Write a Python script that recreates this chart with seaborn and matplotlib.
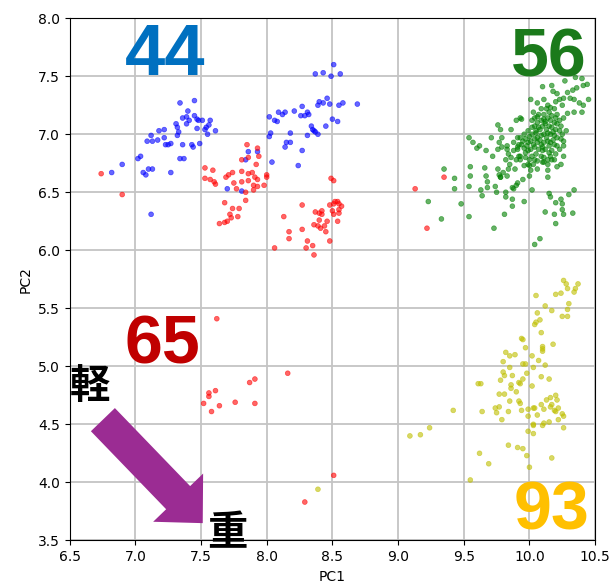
import matplotlib
matplotlib.use("Agg")
import matplotlib.pyplot as plt
import seaborn as sns
import pandas as pd
from matplotlib import font_manager

# ---------------- data ----------------
blue_pts = [
    (7.34, 7.27), (7.45, 7.29), (7.40, 7.20), (7.36, 7.14), (7.39, 7.15), (7.41, 7.12), (7.45, 7.16),
    (7.47, 7.13), (7.48, 7.12), (7.51, 7.12), (7.31, 7.09), (7.32, 7.06), (7.39, 7.09), (7.47, 7.05),
    (7.53, 7.04), (7.18, 7.03), (7.22, 7.04), (7.33, 7.02), (7.32, 6.99), (7.12, 6.99), (7.09, 6.94),
    (7.13, 6.94), (7.17, 6.95), (7.22, 6.97), (7.23, 6.91), (7.25, 6.91), (7.27, 6.92), (7.36, 6.91),
    (7.43, 6.91), (7.44, 6.89), (7.49, 6.92), (6.90, 6.74), (7.02, 6.79), (7.04, 6.81), (7.34, 6.79),
    (7.37, 6.79), (6.82, 6.67), (7.06, 6.67), (7.08, 6.65), (7.10, 6.70), (7.13, 6.70), (7.27, 6.67),
    (7.12, 6.31),
    (8.51, 7.60), (8.37, 7.52), (8.43, 7.53), (8.49, 7.50), (8.56, 7.52), (8.46, 7.31), (8.40, 7.28),
    (8.43, 7.27), (8.48, 7.26), (8.55, 7.25), (8.58, 7.27), (8.39, 7.25), (8.69, 7.26), (8.27, 7.24),
    (8.21, 7.20), (8.09, 7.19), (8.14, 7.19), (8.12, 7.17), (8.31, 7.19), (8.32, 7.17), (8.26, 7.16),
    (8.29, 7.16), (8.02, 7.15), (8.06, 7.12), (8.08, 7.11), (8.50, 7.13), (8.54, 7.11), (8.34, 7.07),
    (8.35, 7.04), (8.36, 7.03), (8.37, 7.02), (8.45, 7.07), (8.39, 7.00), (8.31, 6.99), (8.18, 7.01),
    (8.03, 7.01), (8.02, 6.98), (8.15, 6.93), (8.18, 6.93), (8.14, 6.89), (8.27, 6.86), (8.04, 6.76),
    (8.24, 6.73), (7.57, 7.12), (7.56, 7.08), (7.54, 7.06), (7.61, 7.03), (7.55, 7.00), (7.86, 6.85),
    (7.93, 6.85), (7.84, 6.78), (7.70, 6.53), (7.81, 6.51),
]

red_pts = [
    (6.74, 6.66), (6.90, 6.48),
    (7.85, 6.91), (7.93, 6.88), (7.94, 6.81), (7.86, 6.80), (7.81, 6.78), (7.92, 6.74), (7.53, 6.71),
    (7.59, 6.69), (7.53, 6.62), (7.57, 6.61), (7.60, 6.59), (7.61, 6.57), (7.69, 6.63), (7.71, 6.65),
    (7.74, 6.67), (7.81, 6.68), (7.86, 6.66), (7.89, 6.67), (7.91, 6.63), (7.93, 6.61), (8.00, 6.65),
    (8.00, 6.63), (7.75, 6.58), (7.81, 6.59), (7.86, 6.60), (7.90, 6.56), (7.93, 6.55), (7.98, 6.56),
    (7.77, 6.53), (7.90, 6.52), (7.84, 6.50), (7.68, 6.41), (7.74, 6.36), (7.79, 6.36), (7.72, 6.31),
    (7.73, 6.28), (7.78, 6.29), (7.64, 6.23), (7.68, 6.24), (7.70, 6.25), (7.84, 6.43),
    (8.06, 6.02), (8.13, 6.29), (8.17, 6.16), (8.17, 6.10), (8.27, 6.18), (8.27, 6.39), (8.31, 6.08),
    (8.30, 6.02), (8.35, 6.04), (8.36, 5.96), (8.37, 6.33), (8.40, 6.32), (8.42, 6.34), (8.42, 6.31),
    (8.40, 6.26), (8.36, 6.22), (8.39, 6.21), (8.41, 6.19), (8.44, 6.21), (8.45, 6.16), (8.46, 6.25),
    (8.48, 6.39), (8.48, 6.08), (8.49, 6.62), (8.51, 6.60), (8.51, 6.40), (8.52, 6.42), (8.54, 6.42),
    (8.55, 6.40), (8.57, 6.38), (8.55, 6.35), (8.50, 6.34), (8.51, 6.31), (8.55, 6.32), (8.54, 6.25),
    (9.35, 6.63), (9.13, 6.53), (9.22, 6.19),
    (7.62, 5.41), (8.16, 4.94), (7.87, 4.86), (7.91, 4.89), (7.56, 4.77), (7.61, 4.79), (7.56, 4.74),
    (7.52, 4.68), (7.58, 4.61), (7.64, 4.66), (7.76, 4.69), (7.91, 4.68), (8.51, 4.06), (8.29, 3.83),
]

green_pts = [
    (9.35, 6.70), (9.43, 6.62), (9.43, 6.53), (9.23, 6.42), (9.33, 6.27), (9.48, 6.40), (9.54, 6.97),
    (9.57, 6.93), (9.60, 6.88), (9.62, 6.90), (9.55, 6.72), (9.55, 6.64), (9.54, 6.55), (9.54, 6.29),
    (9.63, 6.52), (9.64, 6.47), (9.66, 6.71), (9.67, 6.64), (9.68, 6.59), (9.68, 6.54), (9.73, 6.19),
    (9.74, 6.55), (9.75, 6.50), (9.81, 6.31), (9.82, 6.46), (9.82, 6.50), (9.87, 6.44), (9.87, 6.38),
    (9.96, 6.42), (10.02, 6.52), (10.04, 6.05), (10.08, 6.10), (10.12, 6.33), (10.15, 6.49),
    (10.16, 6.46), (10.19, 6.31), (10.20, 6.41), (10.20, 6.23), (10.24, 6.44), (10.25, 6.40),
    (10.25, 6.35), (10.26, 6.31), (10.33, 6.32), (10.30, 6.48), (10.34, 6.52), (9.67, 6.86),
    (9.71, 6.97), (9.72, 6.81), (9.76, 6.70), (9.77, 6.65), (9.78, 6.63), (9.76, 7.08), (9.78, 7.04),
    (9.79, 6.97), (9.77, 6.93), (9.79, 6.89), (9.76, 6.87), (9.83, 6.87), (9.84, 6.83), (9.82, 6.78),
    (9.85, 6.74), (9.84, 6.70), (9.80, 6.67), (9.78, 6.63), (9.83, 6.64), (9.89, 6.70), (9.87, 6.54),
    (9.90, 6.56), (9.88, 6.53), (9.91, 6.58), (9.95, 6.61), (10.00, 6.64), (10.01, 6.69), (10.06, 6.70),
    (10.14, 6.69), (10.14, 6.63), (10.21, 6.72), (10.24, 6.74), (9.86, 7.04), (9.90, 7.12), (9.93, 7.14),
    (9.94, 7.13), (9.91, 6.97), (9.92, 6.91), (9.91, 6.87), (9.93, 6.81), (9.93, 6.78), (9.96, 6.73),
    (10.00, 6.73), (10.04, 6.78), (10.11, 6.76), (10.17, 6.78), (10.26, 6.90), (10.28, 7.03),
    (10.26, 6.81),
    (10.10, 7.41), (10.17, 7.42), (10.27, 7.46), (10.35, 7.49), (10.40, 7.48), (10.44, 7.43),
    (10.41, 7.42), (10.36, 7.40), (10.33, 7.38), (10.29, 7.36), (10.21, 7.35), (10.18, 7.37),
    (10.23, 7.30), (10.26, 7.31), (10.31, 7.31), (10.34, 7.30), (10.38, 7.27), (10.41, 7.25),
    (10.45, 7.30), (10.40, 7.19), (10.34, 7.19), (10.29, 7.18), (10.25, 7.25), (10.20, 7.28),
    (10.14, 7.25), (10.11, 7.30), (10.06, 7.27), (10.01, 7.30), (10.03, 7.19), (10.06, 7.15),
    (10.09, 7.22), (10.15, 7.19), (10.19, 7.22), (10.21, 7.17), (10.26, 7.14), (10.24, 7.07),
    (10.02, 7.12),
    (10.04, 7.07), (10.06, 7.10), (10.09, 7.12), (10.11, 7.13), (10.14, 7.14), (10.16, 7.12),
    (10.19, 7.10), (10.21, 7.09), (10.07, 7.06), (10.10, 7.07), (10.12, 7.09), (10.15, 7.07),
    (10.17, 7.06), (10.20, 7.04), (10.23, 7.03), (10.05, 7.03), (10.02, 7.00), (10.00, 6.98),
    (9.97, 6.96), (9.95, 6.94), (9.99, 6.93), (10.01, 6.94), (10.04, 6.96), (10.06, 6.97),
    (10.09, 6.99), (10.11, 7.00), (10.14, 7.01), (10.16, 7.00), (10.19, 6.99), (10.21, 6.97),
    (10.24, 6.96), (10.06, 6.93), (10.09, 6.91), (10.11, 6.93), (10.14, 6.94), (10.16, 6.93),
    (10.19, 6.91), (10.21, 6.90), (10.04, 6.89), (10.01, 6.87), (9.99, 6.86), (9.96, 6.88),
    (10.07, 6.87), (10.10, 6.86), (10.12, 6.87), (10.15, 6.84), (10.17, 6.86), (10.20, 6.83),
    (10.09, 6.81), (10.11, 6.80), (10.14, 6.78), (10.16, 6.81), (10.05, 6.83), (10.02, 6.81),
    (10.00, 6.78), (9.97, 6.80), (10.06, 6.77), (10.10, 6.76), (9.94, 6.91), (9.91, 6.89),
    (9.97, 6.84), (9.93, 6.97), (9.96, 7.00), (9.99, 7.03), (10.02, 7.06), (10.04, 7.14),
    (10.07, 7.17), (10.11, 7.17), (10.13, 7.22), (10.16, 7.23), (10.17, 7.16), (10.20, 7.14),
    (10.23, 7.12), (10.25, 7.00), (10.26, 6.94), (10.23, 6.87), (10.19, 6.78), (10.14, 6.74),
    (10.03, 6.74), (9.99, 6.74), (9.92, 6.81), (9.90, 6.78), (9.86, 6.80), (9.83, 6.90),
    (9.88, 6.93), (9.88, 6.86),
    (10.08, 7.04), (10.13, 7.04), (10.18, 7.02), (10.03, 6.91), (10.08, 6.95), (10.13, 6.97),
    (10.18, 6.95), (10.10, 6.89), (10.05, 7.01), (10.15, 6.90), (10.12, 7.11), (9.98, 6.90),
]

yellow_pts = [
    (10.26, 5.74), (10.28, 5.71), (10.29, 5.67), (10.37, 5.71), (10.35, 5.67), (10.34, 5.64),
    (10.24, 5.63), (10.20, 5.62), (10.05, 5.61), (10.12, 5.52), (10.30, 5.54), (10.17, 5.48),
    (10.29, 5.49), (10.06, 5.46), (10.25, 5.43), (10.29, 5.43), (10.08, 5.40), (10.05, 5.38),
    (10.04, 5.36), (10.09, 5.29), (9.94, 5.24), (9.95, 5.23), (10.18, 5.19), (9.97, 5.16),
    (10.10, 5.17), (10.10, 5.15), (10.10, 5.13), (10.02, 5.09), (9.82, 5.12), (9.85, 5.09),
    (9.89, 5.10), (9.80, 5.04), (10.07, 5.05), (9.95, 5.02), (9.97, 5.02), (10.12, 5.01),
    (9.85, 4.99), (10.03, 4.99), (9.80, 4.95), (9.98, 4.94), (9.81, 4.92), (9.87, 4.92),
    (9.78, 4.88), (10.09, 4.91), (10.15, 4.89), (9.95, 4.89), (9.92, 4.86), (9.93, 4.85),
    (9.61, 4.85), (9.63, 4.85), (9.86, 4.84), (9.86, 4.81), (10.02, 4.83), (9.90, 4.78),
    (9.77, 4.76), (9.81, 4.76), (10.20, 4.75), (10.16, 4.73), (10.13, 4.71), (9.85, 4.70),
    (9.92, 4.70), (9.93, 4.68), (10.09, 4.67), (10.17, 4.67), (10.21, 4.71), (9.77, 4.65),
    (9.74, 4.64), (9.75, 4.60), (9.64, 4.61), (9.42, 4.62), (9.84, 4.61), (9.94, 4.62),
    (9.99, 4.63), (10.03, 4.64), (10.04, 4.64), (10.11, 4.63), (10.16, 4.65), (10.19, 4.62),
    (10.20, 4.61), (10.22, 4.64), (10.25, 4.59), (10.26, 4.57), (10.06, 4.58), (9.99, 4.57),
    (9.79, 4.54), (10.15, 4.52), (10.11, 4.51), (10.10, 4.49), (10.22, 4.54), (10.03, 4.50),
    (10.03, 4.49), (10.26, 4.47), (9.99, 4.44), (10.03, 4.42), (9.24, 4.47), (9.17, 4.41),
    (9.09, 4.40), (9.62, 4.25), (9.69, 4.16), (9.84, 4.32), (9.91, 4.30), (9.95, 4.29),
    (9.98, 4.23), (10.00, 4.13), (10.17, 4.21), (9.55, 4.02), (8.39, 3.94),
]

group_names = ["blue", "red", "green", "yellow"]
group_colors = {"blue": "#0000ff", "red": "#ff0000", "green": "#008000", "yellow": "#bfbf00"}
big_labels = ["44", "56", "65", "93"]
big_colors = ["#0070c0", "#1b7a1b", "#c00000", "#ffc000"]

frames = []
for name, pts in zip(group_names, [blue_pts, red_pts, green_pts, yellow_pts]):
    frames.append(pd.DataFrame({"PC1": [p[0] for p in pts],
                                "PC2": [p[1] for p in pts],
                                "group": name}))
df = pd.concat(frames, ignore_index=True)

# ---------------- figure ----------------
plt.rcParams["font.family"] = ["DejaVu Sans"]
names = {f.name for f in font_manager.fontManager.ttflist}
num_font = "Liberation Sans Narrow" if "Liberation Sans Narrow" in names else "Liberation Sans"

fig = plt.figure(figsize=(6.11, 5.84), dpi=100)
ax = fig.add_axes([0.114, 0.0748, 0.860, 0.894])

sns.scatterplot(data=df, x="PC1", y="PC2", hue="group", palette=group_colors,
                s=12, alpha=0.6, edgecolor="face", linewidth=0.5, legend=False, ax=ax, zorder=3)

ax.set_xlim(6.5, 10.5)
ax.set_ylim(3.5, 8.0)
ax.set_xticks([6.5, 7.0, 7.5, 8.0, 8.5, 9.0, 9.5, 10.0, 10.5])
ax.set_yticks([3.5, 4.0, 4.5, 5.0, 5.5, 6.0, 6.5, 7.0, 7.5, 8.0])
ax.grid(True, color="#c4c4c4", linewidth=1.3, zorder=0)
ax.set_axisbelow(True)
ax.set_xlabel("PC1", fontsize=10)
ax.set_ylabel("PC2", fontsize=10)
ax.tick_params(labelsize=10)

# big count labels
big_pos = [(7.226, 7.511, 52), (10.148, 7.494, 49), (7.205, 5.026, 49), (10.172, 3.594, 49)]
for lab, col, (tx, ty, fs) in zip(big_labels, big_colors, big_pos):
    ax.text(tx, ty, lab, color=col, fontsize=fs, fontweight="bold",
            family=[num_font, "DejaVu Sans"],
            ha="center", va="baseline", zorder=6, clip_on=False)

# arrow light -> heavy
ax.annotate("", xy=(7.513, 3.648), xytext=(6.753, 4.540), xycoords="data",
            arrowprops=dict(arrowstyle="simple,head_length=25.5,head_width=50,tail_width=24",
                            mutation_scale=1, shrinkA=0, shrinkB=0,
                            color="#9b2c93", lw=0),
            annotation_clip=False, zorder=5)

ax.text(6.655, 4.827, "軽", fontsize=29, fontweight="bold", color="black",
        family=["Noto Sans CJK JP", "DejaVu Sans"], ha="center", va="center",
        zorder=6, clip_on=False)
ax.text(7.698, 3.559, "重", fontsize=29, fontweight="bold", color="black",
        family=["Noto Sans CJK JP", "DejaVu Sans"], ha="center", va="center",
        zorder=6, clip_on=False)

fig.savefig("out.png", dpi=100)
